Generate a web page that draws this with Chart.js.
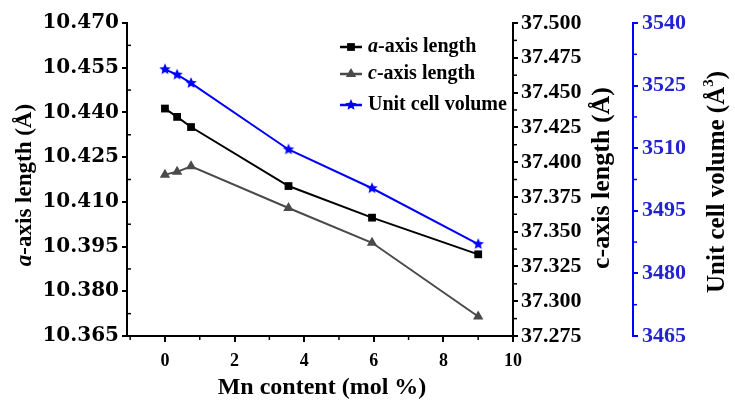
<!DOCTYPE html>
<html>
<head>
<meta charset="utf-8">
<script src="https://cdn.jsdelivr.net/npm/chart.js@4.4.1/dist/chart.umd.min.js"></script>
<style>
  html, body { margin: 0; padding: 0; background: #fff; }
  canvas { display: block; }
</style>
</head>
<body>
<canvas id="mycanvas" width="735" height="403"></canvas>
<script>
// data
var mnContent = [0, 0.35, 0.75, 3.55, 5.95, 9.0];
var aAxisLength = [10.4413, 10.4385, 10.4351, 10.4153, 10.4047, 10.3924];
var cAxisLength = [37.391, 37.393, 37.397, 37.367, 37.342, 37.289];
var cellVolume = [3528.9, 3527.6, 3525.6, 3509.7, 3500.4, 3487.0];

var xTicks = [0, 2, 4, 6, 8, 10];
var aTicks = [10.365, 10.380, 10.395, 10.410, 10.425, 10.440, 10.455, 10.470];
var cTicks = [37.275, 37.300, 37.325, 37.350, 37.375, 37.400, 37.425, 37.450, 37.475, 37.500];
var vTicks = [3465, 3480, 3495, 3510, 3525, 3540];

var BLUE = '#0000ff';
var GRAY = '#4a4a4a';
var SERIF = '"Liberation Serif", "Times New Roman", serif';

function makeStar(color, r) {
  var c = document.createElement('canvas');
  var s = Math.ceil(r * 2) + 2;
  c.width = s; c.height = s;
  var g = c.getContext('2d');
  g.fillStyle = color;
  g.beginPath();
  for (var i = 0; i < 10; i++) {
    var rr = i % 2 ? r * 0.45 : r;
    var ang = -Math.PI / 2 + i * Math.PI / 5;
    g.lineTo(s / 2 + rr * Math.cos(ang), s / 2 + rr * Math.sin(ang));
  }
  g.closePath();
  g.fill();
  return c;
}
var starImg = makeStar(BLUE, 6);

function pts(ys) {
  return mnContent.map(function (x, i) { return { x: x, y: ys[i] }; });
}
function fixTicks(list) {
  return function (s) { s.ticks = list.map(function (v) { return { value: v }; }); };
}
function mids(list) {
  var out = [];
  for (var i = 0; i < list.length - 1; i++) out.push((list[i] + list[i + 1]) / 2);
  return out;
}

// draw text made of several styled parts, centred at (0,0) of current transform
function drawParts(ctx, parts) {
  var total = 0;
  parts.forEach(function (p) { ctx.font = p.font; p.w = ctx.measureText(p.t).width; total += p.w; });
  var x = -total / 2;
  parts.forEach(function (p) {
    ctx.font = p.font;
    ctx.fillText(p.t, x, p.dy || 0);
    x += p.w;
  });
}

var extras = {
  id: 'extras',
  afterDraw: function (chart) {
    var ctx = chart.ctx;
    var sx = chart.scales.x, sa = chart.scales.y, sc = chart.scales.yc, sv = chart.scales.yv;
    ctx.save();

    // minor ticks
    ctx.lineWidth = 1.5;
    ctx.strokeStyle = '#000';
    [-1, 1, 3, 5, 7, 9].forEach(function (v) {
      var px = sx.getPixelForValue(v);
      ctx.beginPath(); ctx.moveTo(px, sx.top); ctx.lineTo(px, sx.top + 4); ctx.stroke();
    });
    mids(aTicks).forEach(function (v) {
      var py = sa.getPixelForValue(v);
      ctx.beginPath(); ctx.moveTo(sa.right, py); ctx.lineTo(sa.right + 4, py); ctx.stroke();
    });
    mids(cTicks).forEach(function (v) {
      var py = sc.getPixelForValue(v);
      ctx.beginPath(); ctx.moveTo(sc.left, py); ctx.lineTo(sc.left + 4, py); ctx.stroke();
    });
    ctx.strokeStyle = BLUE;
    mids(vTicks).forEach(function (v) {
      var py = sv.getPixelForValue(v);
      ctx.beginPath(); ctx.moveTo(sv.left, py); ctx.lineTo(sv.left + 4, py); ctx.stroke();
    });

    // axis titles
    ctx.fillStyle = '#000';
    ctx.textBaseline = 'middle';
    ctx.textAlign = 'left';

    ctx.save();
    ctx.translate(25, 185);
    ctx.rotate(-Math.PI / 2);
    drawParts(ctx, [
      { t: 'a', font: 'italic bold 23px ' + SERIF },
      { t: '-axis length (Å)', font: 'bold 23px ' + SERIF }
    ]);
    ctx.restore();

    ctx.save();
    ctx.translate(602, 178);
    ctx.rotate(-Math.PI / 2);
    drawParts(ctx, [
      { t: 'c-axis length (Å)', font: 'bold 26px ' + SERIF }
    ]);
    ctx.restore();

    ctx.save();
    ctx.translate(718, 182);
    ctx.rotate(-Math.PI / 2);
    drawParts(ctx, [
      { t: 'Unit cell volume (Å', font: 'bold 25px ' + SERIF },
      { t: '3', font: 'bold 15px ' + SERIF, dy: -9 },
      { t: ')', font: 'bold 25px ' + SERIF }
    ]);
    ctx.restore();

    ctx.save();
    ctx.translate((sx.left + sx.right) / 2 + 2, 388);
    drawParts(ctx, [
      { t: 'Mn content (mol %)', font: 'bold 24px ' + SERIF }
    ]);
    ctx.restore();

    // legend
    var items = [
      { y: 47, color: '#000', style: 'rect', r: 5.5, label: [{ t: 'a', font: 'italic bold 20px ' + SERIF }, { t: '-axis length', font: 'bold 20px ' + SERIF }] },
      { y: 74, color: GRAY, style: 'triangle', r: 6, label: [{ t: 'c', font: 'italic bold 20px ' + SERIF }, { t: '-axis length', font: 'bold 20px ' + SERIF }] },
      { y: 105, color: BLUE, style: starImg, r: 6, label: [{ t: 'Unit cell volume', font: 'bold 20px ' + SERIF }] }
    ];
    items.forEach(function (it) {
      ctx.strokeStyle = it.color;
      ctx.fillStyle = it.color;
      ctx.lineWidth = 2.5;
      ctx.beginPath(); ctx.moveTo(340, it.y); ctx.lineTo(362, it.y); ctx.stroke();
      Chart.helpers.drawPoint(ctx, { pointStyle: it.style, radius: it.r, rotation: 0, borderWidth: 0 }, 351, it.y);
      ctx.fillStyle = '#000';
      var x = 368;
      it.label.forEach(function (p) {
        ctx.font = p.font;
        ctx.fillText(p.t, x, it.y);
        x += ctx.measureText(p.t).width;
      });
    });

    ctx.restore();
  }
};

var ctx = document.getElementById('mycanvas').getContext('2d');

var chart = new Chart(ctx, {
  type: 'line',
  data: {
    datasets: [
      {
        label: 'a-axis length',
        data: pts(aAxisLength),
        yAxisID: 'y',
        borderColor: '#000',
        backgroundColor: '#000',
        borderWidth: 2,
        pointStyle: 'rect',
        pointRadius: 5.5,
        pointBorderWidth: 0,
        tension: 0
      },
      {
        label: 'c-axis length',
        data: pts(cAxisLength),
        yAxisID: 'yc',
        borderColor: GRAY,
        backgroundColor: GRAY,
        borderWidth: 2,
        pointStyle: 'triangle',
        pointRadius: 6,
        pointBorderWidth: 0,
        tension: 0
      },
      {
        label: 'Unit cell volume',
        data: pts(cellVolume),
        yAxisID: 'yv',
        borderColor: BLUE,
        backgroundColor: BLUE,
        borderWidth: 2,
        pointStyle: starImg,
        pointRadius: 6,
        tension: 0
      }
    ]
  },
  options: {
    responsive: false,
    devicePixelRatio: 1,
    animation: false,
    clip: false,
    layout: { padding: { top: 23, left: 0, right: 0, bottom: 0 } },
    plugins: { legend: { display: false }, tooltip: { enabled: false } },
    scales: {
      x: {
        type: 'linear',
        position: 'bottom',
        min: -1.09,
        max: 10,
        afterBuildTicks: fixTicks(xTicks),
        afterFit: function (s) { s.height = 67; },
        grid: { display: true, drawOnChartArea: false, tickLength: 6, lineWidth: 2, color: '#000' },
        border: { display: true, color: '#000', width: 2 },
        ticks: { color: '#000', padding: 9, maxRotation: 0, font: { family: SERIF, size: 18, weight: 'bold' } }
      },
      y: {
        type: 'linear',
        position: 'left',
        min: 10.365,
        max: 10.470,
        afterBuildTicks: fixTicks(aTicks),
        afterFit: function (s) { s.width = 127; },
        grid: { display: true, drawOnChartArea: false, tickLength: 5, lineWidth: 2, color: '#000' },
        border: { display: true, color: '#000', width: 2 },
        ticks: {
          color: '#000', padding: 3,
          font: { family: '"DejaVu Serif", serif', size: 20, weight: 'bold' },
          callback: function (v) { return v.toFixed(3); }
        }
      },
      yc: {
        type: 'linear',
        position: 'right',
        min: 37.275,
        max: 37.500,
        afterBuildTicks: fixTicks(cTicks),
        afterFit: function (s) { s.width = 120; },
        grid: { display: true, drawOnChartArea: false, tickLength: 5, lineWidth: 2, color: '#000' },
        border: { display: true, color: '#000', width: 2 },
        ticks: {
          color: '#000', padding: 3,
          font: { family: SERIF, size: 22, weight: 'bold' },
          callback: function (v) { return v.toFixed(3); }
        }
      },
      yv: {
        type: 'linear',
        position: 'right',
        min: 3465,
        max: 3540,
        afterBuildTicks: fixTicks(vTicks),
        afterFit: function (s) { s.width = 102; },
        grid: { display: true, drawOnChartArea: false, tickLength: 5, lineWidth: 2, color: BLUE },
        border: { display: true, color: BLUE, width: 2 },
        ticks: {
          color: '#2323d2', padding: 4,
          font: { family: SERIF, size: 22, weight: 'bold' },
          callback: function (v) { return String(v); }
        }
      }
    }
  },
  plugins: [extras]
});
</script>
</body>
</html>
